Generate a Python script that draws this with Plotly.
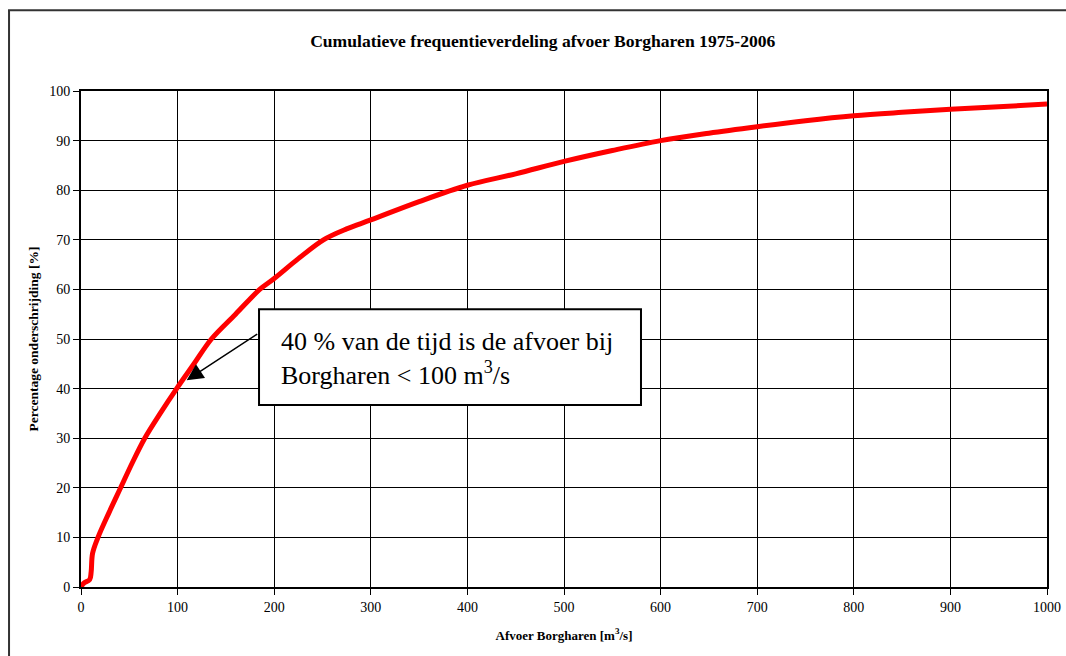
import plotly.graph_objects as go

# cumulative frequency
afvoer = [0, 3, 9, 10.5, 12, 17.6, 29, 41, 53, 66, 82, 99, 117, 135, 160,
          185, 200, 225, 251, 275, 300, 350, 400, 450, 500, 550, 600, 650,
          700, 750, 800, 850, 900, 950, 1000]
percentage = [0, 0.8, 1.5, 3, 6.8, 10, 15, 20, 25, 30, 35, 40, 45, 50, 55,
              60, 62.2, 66.2, 70, 72.2, 74, 77.7, 81, 83.3, 85.8, 88, 90,
              91.5, 92.8, 94, 95, 95.7, 96.3, 96.8, 97.4]

x_ticks = list(range(0, 1001, 100))
y_ticks = list(range(0, 101, 10))

callout_lines = ["40 % van de tijd is de afvoer bij",
                 "Borgharen &lt; 100 m<sup>3</sup>/s"]

FONT = "Liberation Serif"

fig = go.Figure()
fig.add_trace(go.Scatter(
    x=afvoer, y=percentage, mode="lines",
    line=dict(color="#ff0000", width=5, shape="spline", smoothing=1.0),
    hoverinfo="x+y", showlegend=False
))

# callout: white box, two text lines and arrow
fig.add_shape(type="rect", xref="x", yref="y",
              x0=184.3, x1=579.7, y0=36.7, y1=56.0,
              fillcolor="white", line=dict(color="black", width=2), layer="above")
for line_text, ypos in zip(callout_lines, [49.4, 43.1]):
    fig.add_annotation(
        x=205, y=ypos, xref="x", yref="y", showarrow=False, text=line_text,
        font=dict(family=FONT, size=26, color="black"),
        align="left", xanchor="left", yanchor="middle",
    )
fig.add_annotation(
    x=109.4, y=41.7, xref="x", yref="y",
    ax=184, ay=51.2, axref="x", ayref="y",
    text="", showarrow=True, arrowhead=2, arrowsize=2.2, arrowwidth=1.5,
    arrowcolor="black", standoff=0, startstandoff=0,
)

# outer chart frame (only left and top edges are visible)
fig.add_shape(type="path", xref="paper", yref="paper",
              path="M -0.0745,-0.4 L -0.0745,1.163 L 1.2,1.163",
              line=dict(color="#333333", width=2), layer="below")

fig.update_layout(
    width=1066, height=656,
    margin=dict(l=81, r=19, t=91, b=69),
    paper_bgcolor="white", plot_bgcolor="white",
    font=dict(family=FONT, size=14, color="black"),
    title=dict(text="<b>Cumulatieve frequentieverdeling afvoer Borgharen 1975-2006</b>",
               xref="paper", x=0.478, xanchor="center", y=0.9375, yanchor="middle",
               font=dict(family=FONT, size=17.6)),
)
fig.update_xaxes(
    range=[0, 1000], tickvals=x_ticks, ticks="outside", ticklen=6,
    tickcolor="black", showgrid=True, gridcolor="black", gridwidth=1,
    showline=True, linecolor="black", linewidth=2, mirror=True,
    zeroline=False, tickfont=dict(size=14), automargin=False,
    ticklabeloverflow="allow",
    title=dict(text="<b>Afvoer Borgharen [m<sup>3</sup>/s]</b>", font=dict(size=13), standoff=17),
)
fig.update_yaxes(
    range=[0, 100], tickvals=y_ticks, ticks="outside", ticklen=6,
    tickcolor="black", showgrid=True, gridcolor="black", gridwidth=1,
    showline=True, linecolor="black", linewidth=2, mirror=True,
    zeroline=False, tickfont=dict(size=14), automargin=False,
    title=dict(text="<b>Percentage onderschrijding [%]</b>", font=dict(size=13.5), standoff=7),
)

# drop the default body margin so the figure fills the window exactly
fig.write_html("out.html", config={"displayModeBar": False},
               post_script="document.body.style.margin = '0';")
